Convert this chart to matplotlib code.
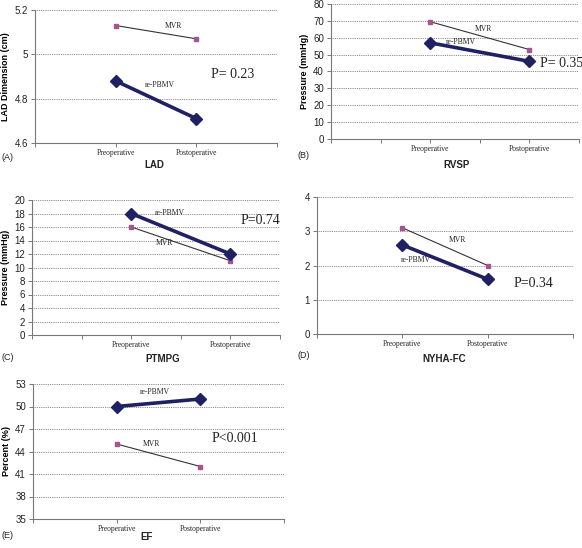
import matplotlib
matplotlib.use("Agg")
import matplotlib.pyplot as plt
import matplotlib.transforms as mtransforms
import numpy as np

W, H = 582, 548

categories = ["Preoperative", "Postoperative"]

lad_pbmv = [4.88, 4.71]
lad_mvr = [5.13, 5.07]
rvsp_pbmv = [57, 46]
rvsp_mvr = [69.5, 53]
ptmpg_pbmv = [18, 12]
ptmpg_mvr = [16, 11]
nyha_pbmv = [2.6, 1.6]
nyha_mvr = [3.1, 2.0]
ef_pbmv = [50, 51]
ef_mvr = [45, 42]

p_values = ["P= 0.23", "P= 0.35", "P=0.74", "P=0.34", "P<0.001"]
titles = ["LAD", "RVSP", "PTMPG", "NYHA-FC", "EF"]
panel_tags = ["(A)", "(B)", "(C)", "(D)", "(E)"]

SANS = "Liberation Sans"
SERIF = "Liberation Serif"
NAVY = "#1f2163"
PINK = "#a4558f"

fig = plt.figure(figsize=(W / 100, H / 100), dpi=100)


def px_axes(l, r, t, b):
    return fig.add_axes([l / W, 1 - b / H, (r - l) / W, (b - t) / H])


def style(ax, ylim, ystep, xmax, xpos, yfmt=None):
    ax.set_ylim(*ylim)
    yt = np.arange(ylim[0], ylim[1] + ystep / 2, ystep)
    ax.set_yticks(yt)
    if yfmt:
        ax.set_yticklabels([yfmt(v) for v in yt])
    ax.set_xlim(0, xmax)
    ax.set_xticks(np.arange(0, xmax + 1))
    ax.set_xticklabels([""] * (xmax + 1))
    off = mtransforms.offset_copy(ax.get_xaxis_transform(), fig=fig, x=0, y=-10, units="dots")
    for x, c in zip(xpos, categories):
        ax.text(x, 0, c, transform=off, ha="center", va="center",
                fontsize=5.5, family=SERIF, color="#222222")
    for v in yt[1:]:
        ax.axhline(v, color="#666666", lw=0.6, ls=(0, (1, 1.2)), zorder=0)
    for s in ["top", "right"]:
        ax.spines[s].set_visible(False)
    for s in ["left", "bottom"]:
        ax.spines[s].set_color("#777777")
        ax.spines[s].set_linewidth(0.8)
    ax.tick_params(axis="both", length=3, width=0.7, color="#777777")
    ax.tick_params(axis="y", labelsize=7, pad=2)
    for lab in ax.get_yticklabels():
        lab.set_family(SANS)
        lab.set_color("#222222")
    ax.set_facecolor("none")


def series(ax, xpos, pb, mvr):
    ax.plot(xpos, mvr, color="#333333", lw=0.8, marker="s", ms=3,
            mfc=PINK, mec=PINK, zorder=3)
    ax.plot(xpos, pb, color=NAVY, lw=2.6, marker="D", ms=6,
            mfc=NAVY, mec=NAVY, zorder=4)


def lab(ax, x, y, s, size=5.5):
    ax.text(x, y, s, family=SERIF, fontsize=size, ha="center", va="center", color="#222222")


def fmt_plain(v):
    return ("%g" % v)


# Panel A
axA = px_axes(35, 277, 10, 143)
style(axA, (4.6, 5.2), 0.2, 3, [1, 2], fmt_plain)
series(axA, [1, 2], lad_pbmv, lad_mvr)
lab(axA, 1.71, 5.127, "MVR")
lab(axA, 1.55, 4.862, "re-PBMV")
lab(axA, 2.45, 4.91, p_values[0], 10)
axA.set_ylabel("LAD Dimension (cm)", family=SANS, fontsize=6.5, fontweight="bold", labelpad=3)

# Panel B
axB = px_axes(331, 579, 4, 139)
style(axB, (0, 80), 10, 5, [2, 4], fmt_plain)
series(axB, [2, 4], rvsp_pbmv, rvsp_mvr)
lab(axB, 3.08, 65.2, "MVR")
lab(axB, 2.62, 57.2, "re-PBMV")
axB.text(4.22, 45, p_values[1], family=SERIF, fontsize=10, ha="left", va="center",
         color="#222222", clip_on=False)
axB.set_ylabel("Pressure (mmHg)", family=SANS, fontsize=6.5, fontweight="bold", labelpad=3)

# Panel C
axC = px_axes(32, 280, 200, 335)
style(axC, (0, 20), 2, 5, [2, 4], fmt_plain)
series(axC, [2, 4], ptmpg_pbmv, ptmpg_mvr)
lab(axC, 2.78, 18.1, "re-PBMV")
lab(axC, 2.66, 13.6, "MVR")
lab(axC, 4.6, 16.9, p_values[2], 10)
axC.set_ylabel("Pressure (mmHg)", family=SANS, fontsize=6.5, fontweight="bold", labelpad=3)

# Panel D
axD = px_axes(317, 573, 197, 334)
style(axD, (0, 4), 1, 3, [1, 2], fmt_plain)
series(axD, [1, 2], nyha_pbmv, nyha_mvr)
lab(axD, 1.65, 2.74, "MVR")
lab(axD, 1.16, 2.16, "re-PBMV")
lab(axD, 2.54, 1.46, p_values[3], 10)

# Panel E
axE = px_axes(33, 284, 384, 519)
style(axE, (35, 53), 3, 3, [1, 2], fmt_plain)
series(axE, [1, 2], ef_pbmv, ef_mvr)
lab(axE, 1.45, 51.9, "re-PBMV")
lab(axE, 1.41, 45.0, "MVR")
lab(axE, 2.41, 45.7, p_values[4], 10)
axE.set_ylabel("Percent (%)", family=SANS, fontsize=6.5, fontweight="bold", labelpad=3)

# Titles and panel tags (pixel positions)
title_pos = [(154, 165), (457, 165), (163, 359), (444, 359), (147, 537)]
tag_pos = [(2, 157), (297, 156), (2, 357), (297, 355), (2, 535)]
for t, (x, y) in zip(titles, title_pos):
    fig.text(x / W, 1 - y / H, t, family=SANS, fontsize=7, fontweight="bold",
             ha="center", va="center", color="#222222")
for t, (x, y) in zip(panel_tags, tag_pos):
    fig.text(x / W, 1 - y / H, t, family=SANS, fontsize=6.5,
             ha="left", va="center", color="#222222")

fig.savefig("out.png", dpi=100)
